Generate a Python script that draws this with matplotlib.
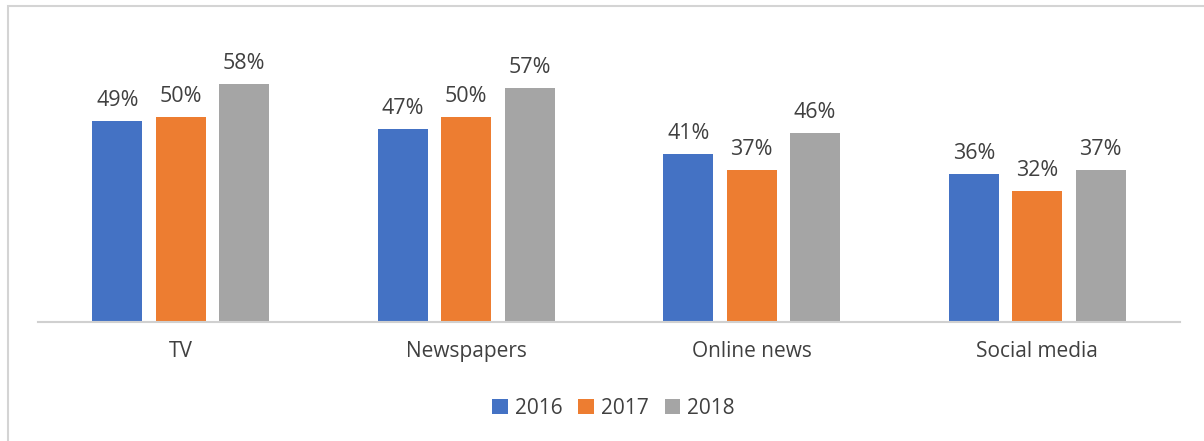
import matplotlib.pyplot as plt
import numpy as np
from matplotlib.patches import Rectangle

categories = ["TV", "Newspapers", "Online news", "Social media"]
years = ["2016", "2017", "2018"]
v2016 = [49, 47, 41, 36]
v2017 = [50, 50, 37, 32]
v2018 = [58, 57, 46, 37]

colors = ["#4472C4", "#ED7D31", "#A5A5A5"]
text_col = "#404040"
plt.rcParams['font.family'] = ['Open Sans', 'DejaVu Sans']

fig = plt.figure(figsize=(12.04, 4.41), dpi=100)
ax = fig.add_axes([38 / 1204, 119 / 441, 1142 / 1204, 302 / 441])

# light frame round the chart
fig.patches.append(Rectangle((8 / 1204, -0.01), 1.0, (441 - 6) / 441 + 0.01,
                             transform=fig.transFigure, fill=False,
                             edgecolor="#d4d4d4", linewidth=1.5))

x = np.arange(len(categories))
w = 0.175
offs = [-0.222, 0, 0.222]
for vals, off, col, yr in zip([v2016, v2017, v2018], offs, colors, years):
    bars = ax.bar(x + off, vals, w, color=col, label=yr)
    for b, v in zip(bars, vals):
        ax.text(b.get_x() + b.get_width() / 2, v + 2.4, f"{v}%",
                ha="center", va="bottom", fontsize=15.5, color=text_col)

ax.set_xlim(-0.5, 3.5)
ax.set_ylim(0, 73.5)
ax.set_yticks([])
ax.set_xticks(x)
ax.set_xticklabels(categories, fontsize=15, color=text_col)
ax.tick_params(axis="x", length=0, pad=14)
for s in ["top", "right", "left"]:
    ax.spines[s].set_visible(False)
ax.spines["bottom"].set_color("#d0d0d0")
ax.spines["bottom"].set_linewidth(1.5)

ax.legend(loc="upper center", bbox_to_anchor=(0.504, -0.19), ncol=3,
          frameon=False, fontsize=15, handlelength=0.75, handleheight=0.75,
          handletextpad=0.35, columnspacing=0.75, labelcolor=text_col)

fig.savefig("out.png", dpi=100)
